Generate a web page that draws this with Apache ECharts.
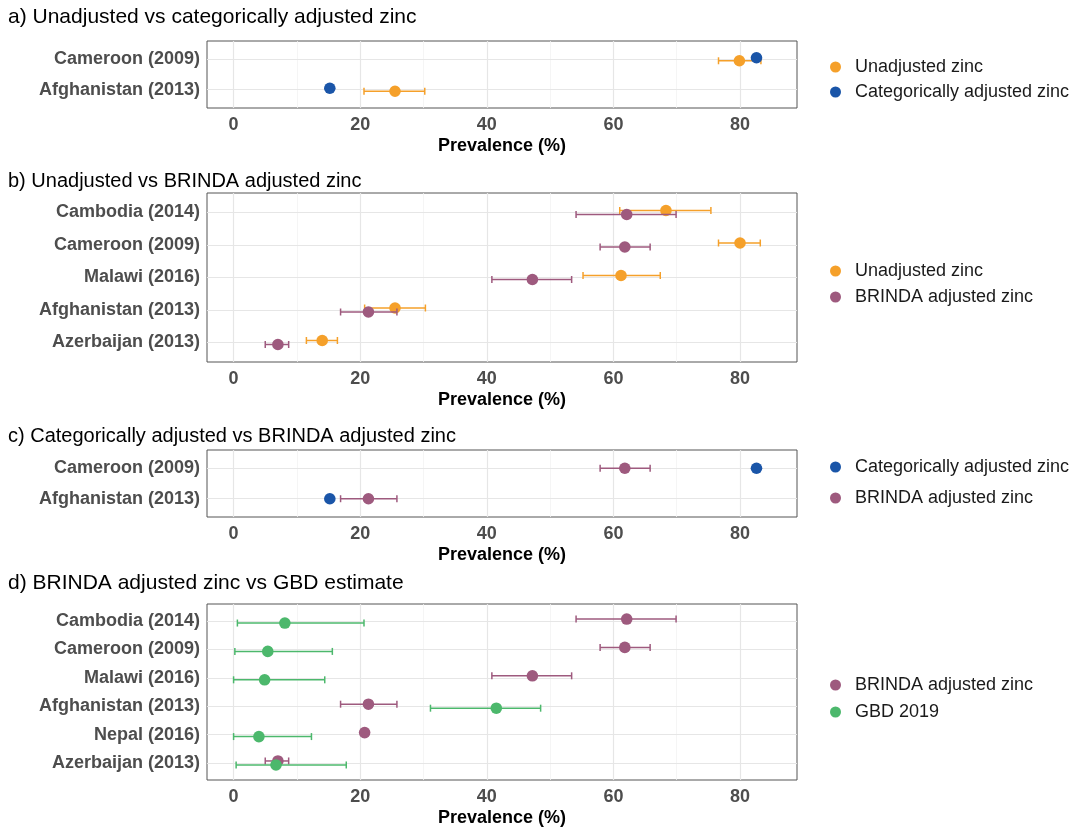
<!DOCTYPE html>
<html>
<head>
<meta charset="utf-8">
<script src="https://cdn.jsdelivr.net/npm/echarts@6/dist/echarts.min.js"></script>
<style>html,body{margin:0;padding:0;background:#fff;}#main{width:1073px;height:828px;}</style>
</head>
<body>
<div id="main"></div>
<script>
// ---------- data: [estimate, lower, upper] ----------
const xTicks = [0, 20, 40, 60, 80];
const xMinorTicks = [10, 30, 50, 70];

const titles = [
  'a) Unadjusted vs categorically adjusted zinc',
  'b) Unadjusted vs BRINDA adjusted zinc',
  'c) Categorically adjusted vs BRINDA adjusted zinc',
  'd) BRINDA adjusted zinc vs GBD estimate'
];

const aCats = ['Cameroon (2009)', 'Afghanistan (2013)'];
const aUnadjusted = [[79.9, 76.6, 83.3], [25.5, 20.6, 30.2]];
const aCategorical = [[82.6, null, null], [15.2, null, null]];

const bCats = ['Cambodia (2014)', 'Cameroon (2009)', 'Malawi (2016)', 'Afghanistan (2013)', 'Azerbaijan (2013)'];
const bUnadjusted = [[68.3, 61.0, 75.4], [80.0, 76.6, 83.2], [61.2, 55.2, 67.4], [25.5, 20.7, 30.3], [14.0, 11.5, 16.4]];
const bBrinda = [[62.1, 54.1, 69.9], [61.8, 57.9, 65.8], [47.2, 40.8, 53.4], [21.3, 16.9, 25.8], [7.0, 5.0, 8.7]];

const cCats = ['Cameroon (2009)', 'Afghanistan (2013)'];
const cCategorical = [[82.6, null, null], [15.2, null, null]];
const cBrinda = [[61.8, 57.9, 65.8], [21.3, 16.9, 25.8]];

const dCats = ['Cambodia (2014)', 'Cameroon (2009)', 'Malawi (2016)', 'Afghanistan (2013)', 'Nepal (2016)', 'Azerbaijan (2013)'];
const dBrinda = [[62.1, 54.1, 69.9], [61.8, 57.9, 65.8], [47.2, 40.8, 53.4], [21.3, 16.9, 25.8], [20.7, null, null], [7.0, 5.0, 8.7]];
const dGbd = [[8.1, 0.6, 20.6], [5.4, 0.2, 15.6], [4.9, 0.0, 14.4], [41.5, 31.1, 48.5], [4.0, 0.0, 12.3], [6.7, 0.4, 17.8]];

const NAME_UNADJ = 'Unadjusted zinc';
const NAME_CAT = 'Categorically adjusted zinc';
const NAME_BRINDA = 'BRINDA adjusted zinc';
const NAME_GBD = 'GBD 2019';

// ---------- styles ----------
const COLORS = {};
COLORS[NAME_UNADJ] = '#F5A02A';
COLORS[NAME_CAT] = '#1A55A8';
COLORS[NAME_BRINDA] = '#9E5A7E';
COLORS[NAME_GBD] = '#4CB86C';
const FONT = "'Liberation Sans', Arial, Helvetica, sans-serif";

const panels = [
  { cats: aCats, top: 41, height: 67, titleTop: 7, titleSize: 21, legendTop: 58, legendGap: 7,
    series: [{ name: NAME_UNADJ, data: aUnadjusted, dodge: 1.5 }, { name: NAME_CAT, data: aCategorical, dodge: -1.5 }],
    legend: [NAME_UNADJ, NAME_CAT] },
  { cats: bCats, top: 193, height: 169, titleTop: 171, titleSize: 20, legendTop: 262, legendGap: 8,
    series: [{ name: NAME_UNADJ, data: bUnadjusted, dodge: -2 }, { name: NAME_BRINDA, data: bBrinda, dodge: 2 }],
    legend: [NAME_UNADJ, NAME_BRINDA] },
  { cats: cCats, top: 450, height: 67, titleTop: 426, titleSize: 20, legendTop: 458, legendGap: 13,
    series: [{ name: NAME_CAT, data: cCategorical, dodge: 0 }, { name: NAME_BRINDA, data: cBrinda, dodge: 0 }],
    legend: [NAME_CAT, NAME_BRINDA] },
  { cats: dCats, top: 604, height: 178, titleTop: 573, titleSize: 21, legendTop: 676, legendGap: 9,
    series: [{ name: NAME_BRINDA, data: dBrinda, dodge: -2 }, { name: NAME_GBD, data: dGbd, dodge: 2 }],
    legend: [NAME_BRINDA, NAME_GBD] }
];

const option = {
  backgroundColor: '#ffffff',
  animation: false,
  textStyle: { fontFamily: FONT },
  title: [], legend: [], grid: [], xAxis: [], yAxis: [], series: []
};

function makeRender(color, dodge) {
  return function (params, api) {
    const v = api.value(0), ci = api.value(1), lo = api.value(2), hi = api.value(3);
    const p = api.coord([v, ci]);
    const y = p[1] + dodge;
    const children = [];
    if (lo != null && hi != null && !isNaN(lo) && !isNaN(hi)) {
      const pl = api.coord([lo, ci]), ph = api.coord([hi, ci]);
      const ls = { stroke: color, lineWidth: 1.5 };
      children.push({ type: 'line', shape: { x1: pl[0], y1: y, x2: ph[0], y2: y }, style: ls });
      children.push({ type: 'line', shape: { x1: pl[0], y1: y - 3.5, x2: pl[0], y2: y + 3.5 }, style: ls });
      children.push({ type: 'line', shape: { x1: ph[0], y1: y - 3.5, x2: ph[0], y2: y + 3.5 }, style: ls });
    }
    children.push({ type: 'circle', shape: { cx: p[0], cy: y, r: 5.8 }, style: { fill: color } });
    return { type: 'group', children: children };
  };
}

panels.forEach(function (pn, i) {
  const n = pn.cats.length;
  const catIdx = pn.cats.map(function (_, k) { return k; });
  option.title.push({
    text: titles[i], left: 8, top: pn.titleTop, padding: 0,
    textStyle: { fontSize: pn.titleSize, fontWeight: 'normal', color: '#000', fontFamily: FONT }
  });
  option.legend.push({
    data: pn.legend, left: 830, top: pn.legendTop, orient: 'vertical', padding: 0,
    icon: 'circle', itemWidth: 11, itemHeight: 11, itemGap: pn.legendGap, selectedMode: false,
    textStyle: { fontSize: 18, color: '#1a1a1a', fontFamily: FONT, padding: [0, 0, 0, 9] }
  });
  option.grid.push({
    left: 207, width: 590, top: pn.top, height: pn.height,
    show: true, borderColor: '#555555', borderWidth: 1, backgroundColor: 'transparent'
  });
  option.xAxis.push({
    type: 'value', gridIndex: i, min: -4.2, max: 89,
    name: 'Prevalence (%)', nameLocation: 'middle', nameGap: 29,
    nameTextStyle: { fontSize: 18, fontWeight: 'bold', color: '#000', fontFamily: FONT },
    axisLine: { show: false },
    axisTick: { show: true, length: 4, customValues: xTicks, lineStyle: { color: '#333' } },
    axisLabel: { customValues: xTicks, fontSize: 18, fontWeight: 'bold', color: '#4d4d4d', margin: 8, fontFamily: FONT },
    splitLine: { show: false }
  });
  option.yAxis.push({
    type: 'value', gridIndex: i, min: -0.6, max: n - 0.4, inverse: true,
    axisLine: { show: false },
    axisTick: { show: true, length: 4, customValues: catIdx, lineStyle: { color: '#333' } },
    axisLabel: {
      customValues: catIdx, fontSize: 18, fontWeight: 'bold', color: '#4d4d4d', margin: 7, fontFamily: FONT,
      formatter: function (v) { return pn.cats[Math.round(v)] || ''; }
    },
    splitLine: { show: false }
  });
  // grid lines drawn on the panel scales
  const gridLines = [];
  xMinorTicks.forEach(function (t) { gridLines.push({ xAxis: t, lineStyle: { color: '#f3f3f3', width: 0.8, type: 'solid' } }); });
  xTicks.forEach(function (t) { gridLines.push({ xAxis: t, lineStyle: { color: '#e6e6e6', width: 1.2, type: 'solid' } }); });
  catIdx.forEach(function (k) { gridLines.push({ yAxis: k, lineStyle: { color: '#e6e6e6', width: 1.2, type: 'solid' } }); });
  option.series.push({
    type: 'scatter', xAxisIndex: i, yAxisIndex: i, data: [], silent: true, z: 1,
    markLine: { silent: true, symbol: ['none', 'none'], label: { show: false }, animation: false, data: gridLines }
  });
  pn.series.forEach(function (s) {
    option.series.push({
      type: 'custom', name: s.name, xAxisIndex: i, yAxisIndex: i, z: 5, silent: true,
      itemStyle: { color: COLORS[s.name] },
      encode: { x: 0, y: 1 },
      data: s.data.map(function (r, k) { return [r[0], k, r[1], r[2]]; }),
      renderItem: makeRender(COLORS[s.name], s.dodge)
    });
  });
});

const chart = echarts.init(document.getElementById('main'), null, { renderer: 'canvas' });
chart.setOption(option);
</script>
</body>
</html>
